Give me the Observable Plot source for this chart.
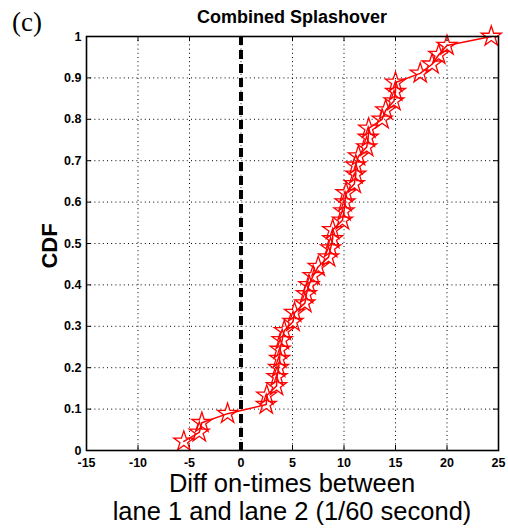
<!DOCTYPE html>
<html>
<head>
<meta charset="utf-8">
<script src="https://cdn.jsdelivr.net/npm/d3@7"></script>
<script src="https://cdn.jsdelivr.net/npm/@observablehq/plot@0.6"></script>
<style>
  html, body { margin: 0; padding: 0; background: #fff; }
  #chart { width: 508px; height: 528px; }
</style>
</head>
<body>
<div id="chart"></div>
<script>
// ---- data ----
const diffOnTimes = [-5.55, -4.05, -3.8, -1.3, 2.45, 2.5, 3.45, 3.5, 3.65, 3.75,
  3.8, 4.0, 4.2, 5.05, 5.2, 6.2, 6.35, 6.6, 7.0, 7.5,
  8.5, 8.7, 8.9, 8.9, 9.85, 10.0, 10.1, 10.2, 11.0, 11.15,
  11.15, 11.4, 12.2, 12.35, 12.4, 13.7, 14.05, 14.85, 15.0, 15.0,
  17.4, 18.55, 19.2, 20.0, 24.3];
const cdfValues = [0.022, 0.044, 0.067, 0.089, 0.111, 0.133, 0.156, 0.178, 0.2, 0.222,
  0.244, 0.267, 0.289, 0.311, 0.333, 0.356, 0.378, 0.4, 0.422, 0.444,
  0.467, 0.489, 0.511, 0.533, 0.556, 0.578, 0.6, 0.622, 0.644, 0.667,
  0.689, 0.711, 0.733, 0.756, 0.778, 0.8, 0.822, 0.844, 0.867, 0.889,
  0.911, 0.933, 0.956, 0.978, 1.0];
const xTicks = [-15, -10, -5, 0, 5, 10, 15, 20, 25];
const yTicks = [0, 0.1, 0.2, 0.3, 0.4, 0.5, 0.6, 0.7, 0.8, 0.9, 1];
const referenceLine = [0];
const titleText = "Combined Splashover";
const panelLabel = "(c)";
const yLabel = "CDF";
const xLabelLines = ["Diff on-times between", "lane 1 and lane 2 (1/60 second)"];

const data = diffOnTimes.map((x, i) => ({x, y: cdfValues[i]}));

const W = 508, H = 528;
const mL = 86, mR = 10, mT = 36, mB = 78;
const innerW = W - mL - mR, innerH = H - mT - mB;
const fmt = d => String(d);
const sans = "'Liberation Sans', Arial, sans-serif";

const chart = Plot.plot({
  width: W, height: H,
  marginLeft: mL, marginRight: mR, marginTop: mT, marginBottom: mB,
  style: {fontFamily: sans, color: "black", background: "white", overflow: "visible"},
  x: {domain: [-15, 25]},
  y: {domain: [0, 1]},
  marks: [
    Plot.gridX(xTicks, {stroke: "black", strokeOpacity: 1, strokeWidth: 1, strokeDasharray: "1,3.2"}),
    Plot.gridY(yTicks, {stroke: "black", strokeOpacity: 1, strokeWidth: 1, strokeDasharray: "1,3.2"}),
    // inward ticks on all four sides
    Plot.ruleX(xTicks, {stroke: "black", strokeWidth: 1, insetTop: innerH - 5}),
    Plot.ruleX(xTicks, {stroke: "black", strokeWidth: 1, insetBottom: innerH - 5}),
    Plot.ruleY(yTicks, {stroke: "black", strokeWidth: 1, insetRight: innerW - 5}),
    Plot.ruleY(yTicks, {stroke: "black", strokeWidth: 1, insetLeft: innerW - 5}),
    Plot.axisX({ticks: xTicks, tickSize: 0, tickPadding: 8, tickFormat: fmt, label: null,
      fontSize: 12.5, fontWeight: "bold"}),
    Plot.axisY({ticks: yTicks, tickSize: 0, tickPadding: 5, tickFormat: fmt, label: null,
      fontSize: 12.5, fontWeight: "bold"}),
    Plot.ruleX(referenceLine, {stroke: "black", strokeWidth: 4, strokeDasharray: "9,5"}),
    Plot.line(data, {x: "x", y: "y", stroke: "red", strokeWidth: 1.5}),
    Plot.dot(data, {x: "x", y: "y", symbol: "star", r: 6.3, fill: "none", stroke: "red", strokeWidth: 1.3}),
    Plot.frame({stroke: "black", strokeWidth: 1.6})
  ]
});

document.getElementById("chart").appendChild(chart);

const svg = d3.select(chart);
// make sure tick label fonts are applied
svg.selectAll('g[aria-label="x-axis tick label"], g[aria-label="y-axis tick label"]')
  .attr("font-size", 12.5).attr("font-weight", "bold").attr("font-family", sans);
svg.selectAll('g[aria-label="y-axis tick label"] text').attr("font-size", 12.5);
svg.selectAll('g[aria-label="x-axis tick label"] text').attr("font-size", 12.5);

const cx = mL + innerW / 2;
svg.append("text").attr("x", cx).attr("y", 23).attr("text-anchor", "middle")
  .attr("font-family", sans).attr("font-weight", "bold")
  .attr("font-size", 18).attr("fill", "black").text(titleText);
svg.append("text").attr("x", 12).attr("y", 31).attr("text-anchor", "start")
  .attr("font-family", "'Liberation Serif', 'Times New Roman', serif")
  .attr("font-size", 27).attr("fill", "black").text(panelLabel);
svg.append("text").attr("transform", `translate(57,${mT + innerH / 2 + 3}) rotate(-90)`)
  .attr("text-anchor", "middle")
  .attr("font-family", sans).attr("font-weight", "bold")
  .attr("font-size", 22).attr("fill", "black").text(yLabel);
xLabelLines.forEach((t, i) => {
  svg.append("text").attr("x", cx).attr("y", 492 + i * 28).attr("text-anchor", "middle")
    .attr("font-family", sans)
    .attr("font-size", 25.5).attr("fill", "black").text(t);
});
</script>
</body>
</html>
